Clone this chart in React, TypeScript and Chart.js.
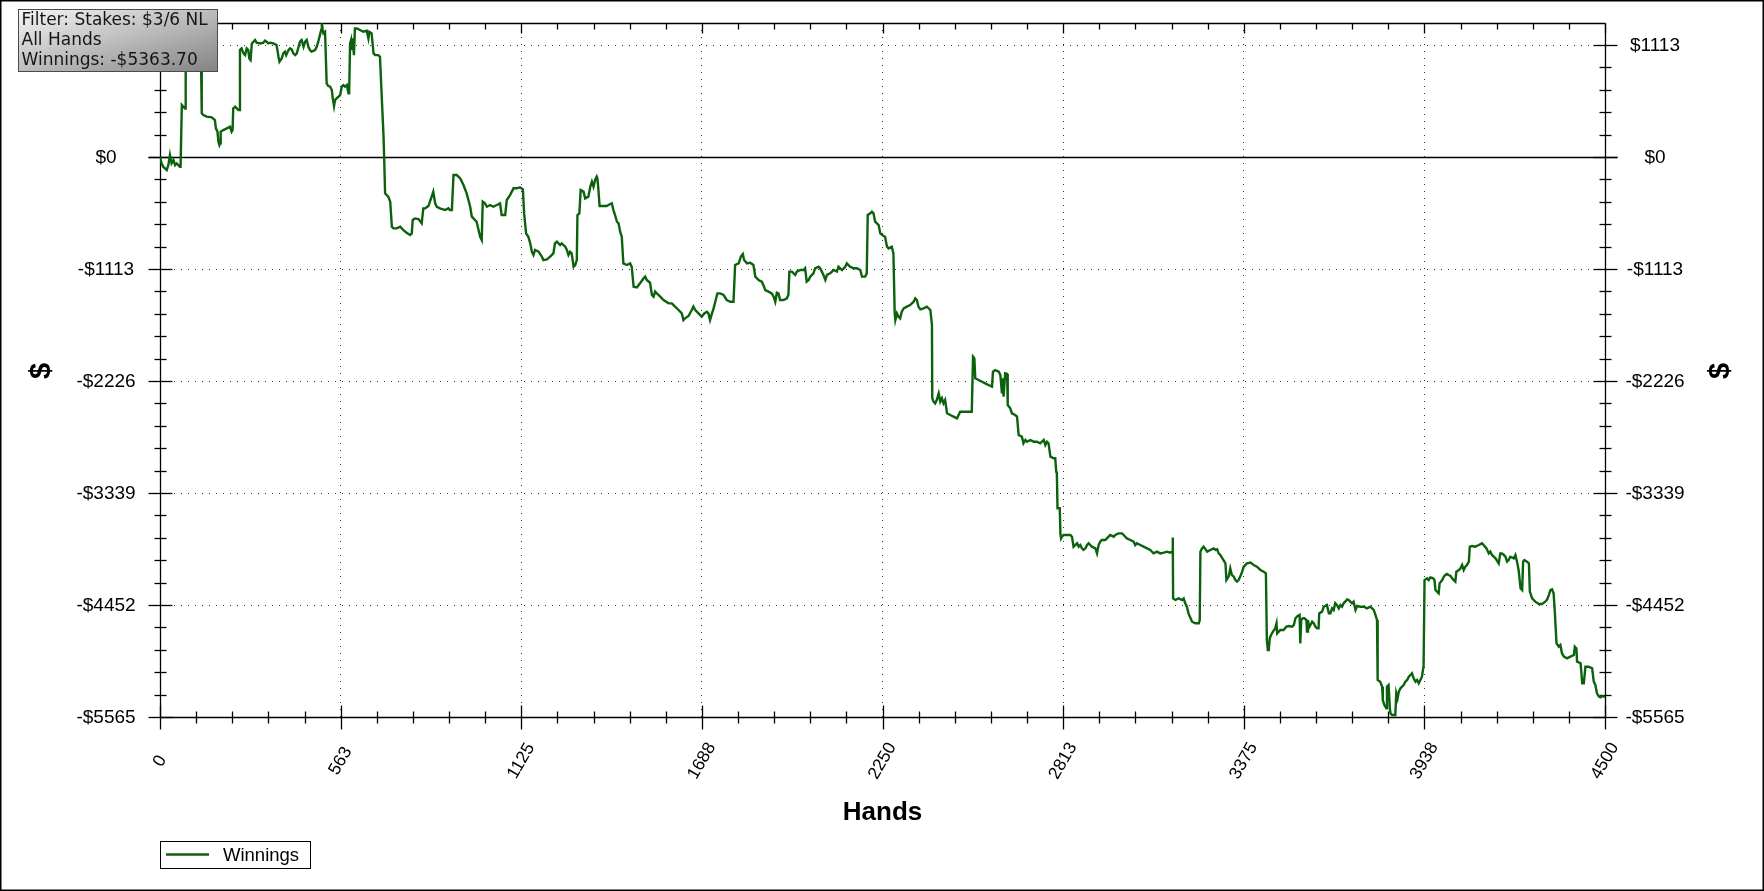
import React, { useEffect, useRef } from 'react';
import { Chart, registerables } from 'chart.js';

Chart.register(...registerables);

// ---------------- data ----------------
const X_MIN = 0;
const X_MAX = 4500;
const Y_MIN = -5565;
const Y_MAX = 1332;

const X_TICKS = [0, 562.5, 1125, 1687.5, 2250, 2812.5, 3375, 3937.5, 4500];
const X_TICK_LABELS = ['0', '563', '1125', '1688', '2250', '2813', '3375', '3938', '4500'];
const X_MINOR_STEP = 112.5;

const Y_TICKS = [1113, 0, -1113, -2226, -3339, -4452, -5565];
const Y_TICK_LABELS = ['$1113', '$0', '-$1113', '-$2226', '-$3339', '-$4452', '-$5565'];
const Y_MINOR_STEP = 222.6;

const SERIES_LABEL = 'Winnings';
const X_TITLE = 'Hands';
const Y_TITLE = '$';
const FILTER_LINES = ['Filter: Stakes: $3/6 NL', 'All Hands', 'Winnings: -$5363.70'];

// [hand, winnings $]
const WINNINGS_BY_HAND: [number, number][] = [
  [0, 0], [5, -63], [10, -96], [21, -129], [26, -80], [31, 20], [36, -63], [42, -30], [47, -80], [52, -63],
  [62, -96], [64, -96], [68, 517], [73, 500], [78, 483], [80, 864], [90, 1000], [100, 950], [110, 1050], [120, 980],
  [128, 900], [130, 434], [135, 417], [145, 401], [161, 394], [171, 367], [174, 285], [179, 252], [182, 152], [185, 119],
  [187, 136], [189, 252], [197, 268], [208, 285], [218, 301], [223, 252], [226, 268], [228, 483], [234, 500], [244, 467],
  [247, 467], [249, 1063], [254, 1080], [260, 1030], [265, 1013], [270, 1080], [275, 1063], [278, 980], [282, 964], [286, 1129],
  [291, 1146], [296, 1163], [301, 1136], [312, 1129], [322, 1136], [327, 1156], [332, 1146], [337, 1129], [343, 1136], [353, 1129],
  [363, 1113], [369, 997], [372, 947], [379, 980], [384, 1030], [389, 1047], [393, 1013], [400, 1063], [405, 1080], [410, 1070],
  [415, 1030], [421, 1013], [426, 1030], [436, 1146], [441, 1163], [447, 1096], [452, 1146], [457, 1163], [462, 1096], [467, 1063],
  [472, 1047], [483, 1063], [488, 1096], [493, 1146], [498, 1212], [502, 1262], [504, 1328], [507, 1262], [509, 1229], [514, 1245],
  [519, 732], [524, 705], [530, 699], [535, 666], [538, 583], [542, 507], [545, 566], [550, 583], [561, 616], [566, 699],
  [571, 715], [576, 699], [582, 715], [587, 633], [589, 633], [592, 1129], [595, 1163], [597, 1063], [600, 1179], [604, 1013],
  [607, 1278], [613, 1278], [623, 1262], [633, 1245], [644, 1255], [649, 1179], [652, 1245], [659, 1229], [665, 1030], [670, 1013],
  [680, 1013], [685, 997], [691, 566], [696, 218], [698, 3], [701, -361], [706, -378], [711, -394], [717, -444], [722, -692],
  [727, -709], [737, -709], [748, -692], [758, -726], [768, -752], [779, -775], [784, -759], [787, -626], [794, -610], [805, -616],
  [815, -659], [820, -510], [826, -510], [836, -487], [846, -394], [851, -345], [857, -461], [862, -494], [872, -510], [888, -527],
  [898, -510], [903, -527], [909, -527], [914, -179], [924, -179], [935, -212], [945, -278], [955, -361], [966, -494], [971, -593],
  [986, -643], [997, -792], [1002, -825], [1005, -444], [1012, -461], [1018, -494], [1028, -477], [1038, -494], [1049, -477],
  [1059, -460], [1064, -576], [1075, -576], [1080, -427], [1090, -378], [1101, -311], [1111, -311], [1121, -301], [1130, -321],
  [1134, -560], [1140, -758], [1147, -792], [1153, -858], [1158, -941], [1163, -974], [1168, -924], [1179, -941], [1189, -990],
  [1194, -1024], [1205, -1017], [1215, -990], [1225, -957], [1230, -858], [1236, -841], [1246, -874], [1251, -858], [1262, -891],
  [1267, -924], [1272, -974], [1277, -941], [1282, -957], [1288, -1090], [1293, -1073], [1298, -1024], [1300, -576], [1306, -560],
  [1310, -328], [1319, -344], [1324, -411], [1334, -394], [1340, -295], [1345, -245], [1350, -295], [1355, -228], [1360, -195],
  [1362, -212], [1365, -311], [1369, -487], [1381, -487], [1391, -487], [1402, -467], [1407, -460], [1412, -527], [1417, -576],
  [1423, -643], [1428, -659], [1433, -742], [1438, -792], [1443, -1057], [1454, -1073], [1464, -1057], [1469, -1090], [1475, -1289],
  [1485, -1295], [1495, -1255], [1506, -1206], [1511, -1189], [1516, -1222], [1526, -1249], [1532, -1371], [1537, -1388], [1542, -1338],
  [1547, -1355], [1558, -1388], [1568, -1421], [1584, -1454], [1594, -1454], [1604, -1487], [1615, -1520], [1625, -1554], [1630, -1620],
  [1635, -1603], [1646, -1580], [1656, -1520], [1661, -1487], [1667, -1520], [1677, -1554], [1687, -1587], [1695, -1554], [1703, -1537],
  [1708, -1554], [1713, -1620], [1719, -1554], [1724, -1504], [1732, -1404], [1736, -1355], [1744, -1355], [1755, -1371], [1765, -1421],
  [1776, -1438], [1786, -1438], [1791, -1073], [1802, -1057], [1809, -990], [1815, -964], [1819, -1024], [1828, -1057], [1838, -1050],
  [1848, -1073], [1854, -1189], [1864, -1222], [1874, -1239], [1879, -1272], [1885, -1322], [1895, -1338], [1905, -1355], [1911, -1388],
  [1916, -1438], [1921, -1348], [1926, -1355], [1931, -1421], [1942, -1421], [1952, -1404], [1957, -1371], [1960, -1139], [1968, -1139],
  [1978, -1172], [1983, -1139], [1994, -1123], [2004, -1123], [2009, -1106], [2014, -1239], [2020, -1222], [2025, -1189], [2035, -1156],
  [2040, -1106], [2051, -1090], [2056, -1106], [2061, -1139], [2066, -1172], [2072, -1222], [2077, -1172], [2087, -1156], [2098, -1123],
  [2108, -1139], [2113, -1090], [2124, -1123], [2134, -1090], [2139, -1057], [2149, -1090], [2160, -1106], [2170, -1106], [2181, -1123],
  [2186, -1189], [2196, -1189], [2201, -1156], [2204, -576], [2212, -560], [2217, -543], [2222, -560], [2227, -643], [2238, -676],
  [2243, -758], [2253, -785], [2258, -792], [2264, -891], [2269, -908], [2279, -891], [2284, -957], [2288, -1554], [2290, -1620],
  [2295, -1554], [2300, -1587], [2305, -1603], [2310, -1537], [2316, -1504], [2326, -1487], [2336, -1471], [2347, -1438], [2352, -1404],
  [2357, -1421], [2362, -1487], [2368, -1514], [2378, -1504], [2388, -1487], [2399, -1520], [2404, -1669], [2405, -2398], [2409, -2431],
  [2414, -2448], [2419, -2415], [2425, -2349], [2430, -2431], [2435, -2398], [2440, -2448], [2445, -2415], [2451, -2547], [2461, -2564],
  [2471, -2580], [2482, -2597], [2487, -2564], [2492, -2531], [2503, -2531], [2513, -2531], [2528, -2531], [2532, -1984], [2536, -2001],
  [2539, -2199], [2549, -2216], [2560, -2233], [2570, -2249], [2580, -2266], [2591, -2282], [2594, -2133], [2601, -2117], [2612, -2133],
  [2617, -2166], [2622, -2349], [2625, -2199], [2627, -2382], [2632, -2150], [2638, -2156], [2640, -2464], [2648, -2497], [2653, -2547],
  [2663, -2564], [2669, -2580], [2674, -2763], [2684, -2779], [2689, -2845], [2695, -2812], [2700, -2829], [2710, -2812], [2721, -2829],
  [2731, -2829], [2741, -2845], [2752, -2812], [2757, -2862], [2762, -2829], [2767, -2845], [2773, -2978], [2783, -2994], [2788, -2994],
  [2791, -3127], [2793, -3144], [2795, -3491], [2802, -3491], [2804, -3740], [2806, -3790], [2809, -3773], [2814, -3756], [2824, -3756],
  [2835, -3756], [2840, -3773], [2845, -3872], [2850, -3856], [2856, -3839], [2861, -3872], [2866, -3856], [2871, -3889], [2876, -3905],
  [2882, -3889], [2887, -3856], [2892, -3839], [2897, -3856], [2902, -3872], [2913, -3889], [2918, -3939], [2923, -3856], [2928, -3823],
  [2933, -3806], [2944, -3806], [2954, -3773], [2959, -3756], [2970, -3773], [2975, -3756], [2985, -3740], [2996, -3740], [3001, -3756],
  [3011, -3790], [3022, -3806], [3032, -3823], [3037, -3856], [3042, -3839], [3053, -3856], [3063, -3872], [3074, -3889], [3084, -3905],
  [3094, -3939], [3105, -3922], [3115, -3939], [3126, -3932], [3136, -3922], [3146, -3932], [3152, -3922], [3154, -3780], [3155, -4386],
  [3162, -4402], [3172, -4386], [3183, -4402], [3188, -4386], [3193, -4435], [3198, -4469], [3203, -4535], [3214, -4618], [3224, -4634],
  [3235, -4634], [3238, -4601], [3240, -3922], [3245, -3889], [3250, -3872], [3261, -3922], [3271, -3905], [3281, -3889], [3287, -3905],
  [3292, -3899], [3297, -3939], [3302, -3955], [3312, -4005], [3318, -4038], [3321, -4204], [3328, -4170], [3333, -4088], [3338, -4154],
  [3344, -4170], [3349, -4204], [3354, -4220], [3359, -4204], [3364, -4170], [3370, -4121], [3375, -4071], [3385, -4038], [3396, -4031],
  [3406, -4054], [3416, -4071], [3427, -4104], [3437, -4121], [3444, -4137], [3447, -4800], [3450, -4899], [3453, -4899], [3456, -4783],
  [3460, -4750], [3466, -4717], [3473, -4684], [3477, -4634], [3479, -4734], [3484, -4717], [3489, -4700], [3499, -4700], [3508, -4667],
  [3515, -4661], [3525, -4667], [3531, -4651], [3536, -4584], [3543, -4561], [3549, -4551], [3551, -4833], [3554, -4601], [3559, -4584],
  [3564, -4584], [3570, -4601], [3572, -4717], [3575, -4601], [3577, -4651], [3580, -4667], [3588, -4618], [3593, -4634], [3598, -4667],
  [3603, -4684], [3608, -4684], [3610, -4535], [3619, -4518], [3624, -4469], [3634, -4452], [3640, -4535], [3645, -4535], [3650, -4485],
  [3655, -4502], [3660, -4435], [3665, -4452], [3671, -4485], [3676, -4452], [3681, -4469], [3686, -4435], [3691, -4419], [3697, -4396],
  [3702, -4402], [3707, -4419], [3712, -4435], [3717, -4419], [3723, -4502], [3728, -4462], [3738, -4469], [3749, -4469], [3759, -4485],
  [3769, -4469], [3775, -4485], [3780, -4502], [3785, -4551], [3790, -4601], [3792, -5197], [3800, -5214], [3806, -5264], [3808, -5396],
  [3813, -5446], [3819, -5479], [3821, -5264], [3826, -5247], [3830, -5479], [3832, -5529], [3837, -5545], [3842, -5545], [3847, -5545],
  [3850, -5330], [3854, -5380], [3858, -5313], [3863, -5280], [3868, -5264], [3873, -5247], [3878, -5214], [3884, -5197], [3889, -5164],
  [3894, -5148], [3899, -5131], [3904, -5181], [3910, -5214], [3915, -5197], [3920, -5230], [3925, -5197], [3930, -5164], [3933, -5098],
  [3935, -5065], [3938, -4204], [3946, -4187], [3951, -4204], [3956, -4177], [3965, -4187], [3969, -4204], [3972, -4303], [3977, -4320],
  [3982, -4336], [3985, -4237], [3993, -4204], [3998, -4170], [4003, -4154], [4008, -4144], [4013, -4154], [4019, -4164], [4024, -4187],
  [4029, -4204], [4034, -4220], [4037, -4121], [4045, -4104], [4050, -4088], [4055, -4055], [4060, -4104], [4065, -4071], [4070, -4055],
  [4076, -4021], [4079, -3872], [4086, -3866], [4096, -3872], [4107, -3856], [4117, -3839], [4122, -3856], [4131, -3889], [4138, -3939],
  [4143, -3922], [4148, -3955], [4159, -3988], [4169, -4038], [4174, -3939], [4179, -3939], [4185, -3955], [4190, -3972], [4195, -4021],
  [4200, -4005], [4205, -3972], [4216, -3988], [4221, -3955], [4226, -4021], [4231, -4104], [4237, -4286], [4242, -4303], [4245, -4021],
  [4249, -4005], [4257, -4021], [4263, -4038], [4266, -4320], [4268, -4336], [4273, -4386], [4278, -4402], [4283, -4419], [4294, -4442],
  [4304, -4442], [4314, -4419], [4320, -4396], [4325, -4353], [4330, -4303], [4335, -4296], [4340, -4336], [4344, -4535], [4349, -4833],
  [4356, -4866], [4361, -4849], [4366, -4932], [4372, -4965], [4382, -4982], [4392, -4965], [4403, -4949], [4406, -4866], [4411, -4883],
  [4413, -5015], [4424, -5031], [4429, -5230], [4434, -5230], [4439, -5065], [4449, -5065], [4460, -5081], [4465, -5214], [4470, -5247],
  [4475, -5330], [4481, -5363], [4486, -5370], [4491, -5356], [4500, -5363.7],
];

// ---------------- styling ----------------
const W = 1764;
const H = 891;
const LINE_COLOR = '#0c620c';
const AXIS_COLOR = '#000000';
const GRID_COLOR = '#333333';
const LABEL_FONT = '"Liberation Sans", Arial, sans-serif';
const BOX_FONT = '"DejaVu Sans", Verdana, sans-serif';

const isEdge = (v: number, a: number, b: number) => Math.abs(v - a) < 1e-6 || Math.abs(v - b) < 1e-6;

const decorPlugin = {
  id: 'pokerDecor',
  beforeDatasetsDraw(chart: any) {
    const { ctx, chartArea: a } = chart;
    const xs = chart.scales.x;
    const ys = chart.scales.y;
    const r = (v: number) => Math.round(v) + 0.5;
    ctx.save();
    ctx.setLineDash([]);
    ctx.strokeStyle = AXIS_COLOR;
    ctx.lineWidth = 1.3;
    const seg = (x1: number, y1: number, x2: number, y2: number) => {
      ctx.beginPath();
      ctx.moveTo(x1, y1);
      ctx.lineTo(x2, y2);
      ctx.stroke();
    };
    const L = r(a.left), R = r(a.right), T = r(a.top), B = r(a.bottom);
    // frame
    seg(L, T, R, T);
    seg(L, T, L, B);
    seg(R, T, R, B);
    seg(L, B, R, B);
    // zero line
    const y0 = r(ys.getPixelForValue(0));
    seg(L - 12, y0, R + 12, y0);
    // x ticks
    const nX = Math.round((X_MAX - X_MIN) / X_MINOR_STEP);
    for (let i = 0; i <= nX; i++) {
      const px = r(xs.getPixelForValue(X_MIN + i * X_MINOR_STEP));
      const major = i % 5 === 0;
      const len = major ? 12 : 6;
      seg(px, B - len, px, B + len);
      seg(px, T, px, T + (major ? 10 : 6));
    }
    // y ticks
    const nY = Math.floor((Y_MAX - Y_MIN) / Y_MINOR_STEP + 1e-6);
    for (let i = 0; i <= nY; i++) {
      const py = r(ys.getPixelForValue(Y_MIN + i * Y_MINOR_STEP));
      const major = i % 5 === 0;
      const len = major ? 12 : 6;
      seg(L - len, py, L + len, py);
      seg(R - len, py, R + len, py);
    }
    ctx.restore();
  },
  afterDraw(chart: any) {
    const { ctx, chartArea: a } = chart;
    const xs = chart.scales.x;
    const ys = chart.scales.y;
    ctx.save();
    ctx.setLineDash([]);

    // y tick labels (both sides)
    ctx.fillStyle = '#000';
    ctx.font = `19px ${LABEL_FONT}`;
    ctx.textAlign = 'center';
    ctx.textBaseline = 'middle';
    Y_TICKS.forEach((v, i) => {
      const py = ys.getPixelForValue(v) + 1;
      ctx.fillText(Y_TICK_LABELS[i], a.left - 54, py);
      ctx.fillText(Y_TICK_LABELS[i], a.right + 50, py);
    });

    // x tick labels (rotated)
    ctx.font = `17.5px ${LABEL_FONT}`;
    X_TICKS.forEach((v, i) => {
      const px = xs.getPixelForValue(v);
      ctx.save();
      ctx.translate(px, a.bottom + 44);
      ctx.rotate(-Math.PI / 3);
      ctx.fillText(X_TICK_LABELS[i], 0, 0);
      ctx.restore();
    });

    // axis titles
    ctx.font = `bold 26px ${LABEL_FONT}`;
    ctx.fillText(X_TITLE, (a.left + a.right) / 2, a.bottom + 96);
    ctx.font = `bold 29px ${LABEL_FONT}`;
    const midY = (a.top + a.bottom) / 2 + 1;
    [42, W - 43].forEach((cx) => {
      ctx.save();
      ctx.translate(cx, midY);
      ctx.rotate(-Math.PI / 2);
      ctx.fillText(Y_TITLE, 0, 0);
      ctx.restore();
    });

    // legend
    const lx = 160.5, ly = 841.5, lw = 150, lh = 27;
    ctx.fillStyle = '#fff';
    ctx.fillRect(lx, ly, lw, lh);
    ctx.strokeStyle = '#000';
    ctx.lineWidth = 1;
    ctx.strokeRect(lx, ly, lw, lh);
    ctx.strokeStyle = LINE_COLOR;
    ctx.lineWidth = 2.4;
    ctx.beginPath();
    ctx.moveTo(166, 854.5);
    ctx.lineTo(209, 854.5);
    ctx.stroke();
    ctx.fillStyle = '#000';
    ctx.font = `18.5px ${LABEL_FONT}`;
    ctx.textAlign = 'left';
    ctx.fillText(SERIES_LABEL, 223, 856);

    // filter info box
    const bx = 18.5, by = 9.5, bw = 199, bh = 62;
    const g = ctx.createLinearGradient(100, -16, 135, 96);
    g.addColorStop(0, '#f6f6f6');
    g.addColorStop(1, '#848484');
    ctx.fillStyle = g;
    ctx.fillRect(bx, by, bw, bh);
    ctx.strokeStyle = '#4a4a4a';
    ctx.lineWidth = 1;
    ctx.strokeRect(bx, by, bw, bh);
    ctx.fillStyle = '#161616';
    ctx.font = `17px ${BOX_FONT}`;
    ctx.textAlign = 'left';
    ctx.textBaseline = 'middle';
    FILTER_LINES.forEach((t, i) => ctx.fillText(t, 21.5, 21 + i * 19.7));

    // outer border
    ctx.strokeStyle = '#000';
    ctx.lineWidth = 1.5;
    ctx.strokeRect(0.75, 0.75, W - 1.5, H - 1.5);
    ctx.restore();
  },
};

export default function App() {
  const ref = useRef<HTMLCanvasElement | null>(null);

  useEffect(() => {
    if (!ref.current) return;
    const chart = new Chart(ref.current, {
      type: 'line',
      data: {
        datasets: [
          {
            label: SERIES_LABEL,
            data: WINNINGS_BY_HAND.map(([h, v]) => ({ x: h, y: v })),
            borderColor: LINE_COLOR,
            borderWidth: 2.4,
            pointRadius: 0,
            fill: false,
            tension: 0,
          },
        ],
      },
      options: {
        responsive: false,
        animation: false,
        events: [],
        layout: { padding: { left: 160, right: 159, top: 23, bottom: 174 } },
        plugins: { legend: { display: false }, tooltip: { enabled: false }, title: { display: false } },
        scales: {
          x: {
            type: 'linear',
            min: X_MIN,
            max: X_MAX,
            afterBuildTicks: (s: any) => {
              s.ticks = X_TICKS.map((v) => ({ value: v }));
            },
            afterFit: (s: any) => {
              s.height = 0;
            },
            ticks: { display: false },
            grid: {
              drawTicks: false,
              lineWidth: 1,
              color: (c: any) => (c.tick && isEdge(c.tick.value, X_MIN, X_MAX) ? 'rgba(0,0,0,0)' : GRID_COLOR),
            },
            border: { display: false, dash: [1, 6] },
          },
          y: {
            type: 'linear',
            min: Y_MIN,
            max: Y_MAX,
            afterBuildTicks: (s: any) => {
              s.ticks = Y_TICKS.map((v) => ({ value: v }));
            },
            afterFit: (s: any) => {
              s.width = 0;
            },
            ticks: { display: false },
            grid: {
              drawTicks: false,
              lineWidth: 1,
              color: (c: any) =>
                c.tick && (isEdge(c.tick.value, Y_MIN, Y_MAX) || Math.abs(c.tick.value) < 1e-6) ? 'rgba(0,0,0,0)' : GRID_COLOR,
            },
            border: { display: false, dash: [1, 6] },
          },
        },
      },
      plugins: [decorPlugin],
    });
    return () => chart.destroy();
  }, []);

  return (
    <div style={{ position: 'fixed', left: 0, top: 0, width: W, height: H, background: '#fff', overflow: 'hidden' }}>
      <canvas ref={ref} width={W} height={H} style={{ display: 'block', width: W, height: H }} />
    </div>
  );
}
